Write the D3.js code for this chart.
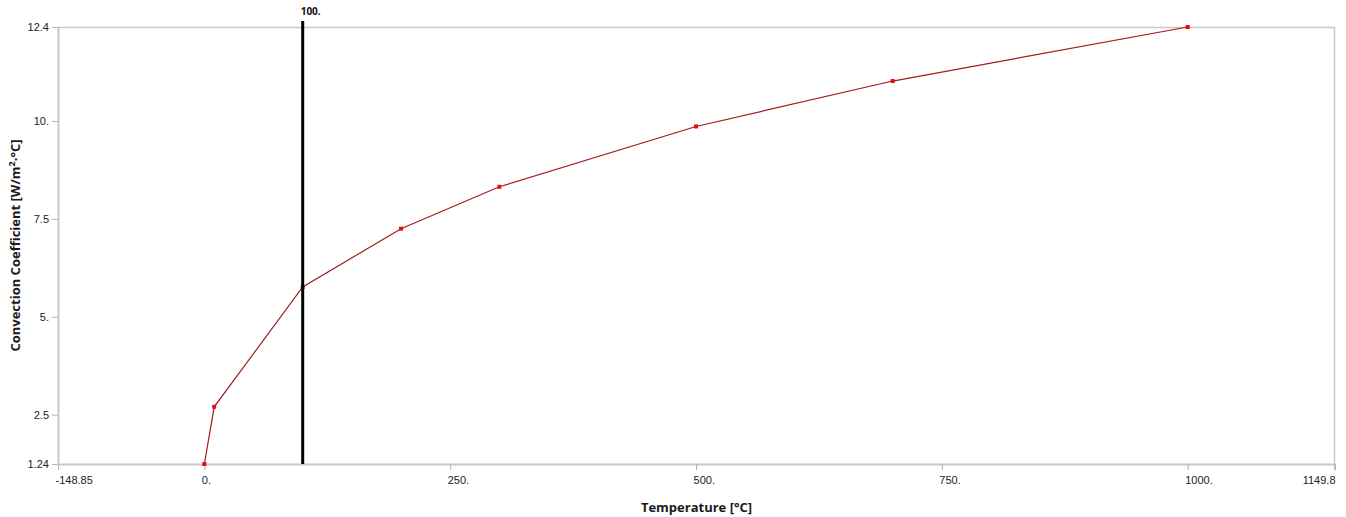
<!DOCTYPE html>
<html>
<head>
<meta charset="utf-8">
<script src="https://cdn.jsdelivr.net/npm/d3@7"></script>
<style>
  html, body { margin: 0; padding: 0; background: #fff; }
  svg { display: block; font-family: "Open Sans", "Liberation Sans", sans-serif; }
</style>
</head>
<body>
<svg id="chart" width="1346" height="517"></svg>
<script>
// Convection coefficient vs temperature
const temperatures = [0, 10, 100, 200, 300, 500, 700, 1000];
const coefficients = [1.24, 2.7, 5.76, 7.25, 8.32, 9.86, 11.02, 12.4];

const xDomain = [-148.85, 1149.8];
const yDomain = [1.24, 12.4];
const xTicks = [-148.85, 0, 250, 500, 750, 1000, 1149.8];
const xTickLabels = ["-148.85", "0.", "250.", "500.", "750.", "1000.", "1149.8"];
const yTicks = [1.24, 2.5, 5, 7.5, 10, 12.4];
const yTickLabels = ["1.24", "2.5", "5.", "7.5", "10.", "12.4"];

const markerValue = 100;
const markerLabel = "100.";

const margin = { left: 58, right: 11, top: 27, bottom: 53 };
const width = 1346, height = 517;

const svg = d3.select("#chart");
const x = d3.scaleLinear().domain(xDomain).range([margin.left, width - margin.right]);
const y = d3.scaleLinear().domain(yDomain).range([height - margin.bottom, margin.top]);

const axisColor = "#c8c8c8";

// frame: top and right borders
svg.append("line")
  .attr("x1", x(xDomain[0])).attr("x2", x(xDomain[1]))
  .attr("y1", y(yDomain[1]) + 0.5).attr("y2", y(yDomain[1]) + 0.5)
  .attr("stroke", axisColor).attr("stroke-width", 1.5);
svg.append("line")
  .attr("x1", x(xDomain[1]) - 0.5).attr("x2", x(xDomain[1]) - 0.5)
  .attr("y1", y(yDomain[1])).attr("y2", y(yDomain[0]) + 6)
  .attr("stroke", axisColor).attr("stroke-width", 1.5);

// x axis
const xAxis = d3.axisBottom(x)
  .tickValues(xTicks)
  .tickFormat((d, i) => xTickLabels[i])
  .tickSize(6)
  .tickSizeOuter(0);
const gx = svg.append("g")
  .attr("transform", `translate(0,${y(yDomain[0])})`)
  .call(xAxis);
gx.select(".domain").attr("stroke", axisColor).attr("stroke-width", 2);
gx.selectAll(".tick line").attr("stroke", "#b4b4b4");
gx.selectAll(".tick text")
  .attr("fill", "#222").attr("font-size", 11).attr("dy", "1.0em")
  .attr("text-anchor", "start").attr("dx", -3);
gx.selectAll(".tick").filter((d, i) => i === xTicks.length - 1)
  .select("text").attr("text-anchor", "end").attr("dx", 0);

// y axis
const yAxis = d3.axisLeft(y)
  .tickValues(yTicks)
  .tickFormat((d, i) => yTickLabels[i])
  .tickSize(6)
  .tickSizeOuter(0);
const gy = svg.append("g")
  .attr("transform", `translate(${x(xDomain[0])},0)`)
  .call(yAxis);
gy.select(".domain").attr("stroke", axisColor).attr("stroke-width", 2);
gy.selectAll(".tick line").attr("stroke", "#b4b4b4");
gy.selectAll(".tick text").attr("fill", "#222").attr("font-size", 11).attr("x", -9);

// axis titles
svg.append("text")
  .attr("x", (x(xDomain[0]) + x(xDomain[1])) / 2)
  .attr("y", 512)
  .attr("text-anchor", "middle")
  .attr("font-size", 13).attr("font-weight", "bold").attr("fill", "#1a1a1a")
  .text("Temperature [°C]");

const yTitle = svg.append("text")
  .attr("transform", `translate(20,${(y(yDomain[0]) + y(yDomain[1])) / 2}) rotate(-90)`)
  .attr("text-anchor", "middle")
  .attr("font-size", 13).attr("font-weight", "bold").attr("fill", "#1a1a1a");
yTitle.append("tspan").text("Convection Coefficient [W/m");
yTitle.append("tspan").attr("font-size", 9).attr("dy", -5).text("2");
yTitle.append("tspan").attr("dy", 5).text("·°C]");

// data line
const pts = temperatures.map((t, i) => [t, coefficients[i]]);
svg.append("path")
  .datum(pts)
  .attr("fill", "none")
  .attr("stroke", "#a01c1c")
  .attr("stroke-width", 1.2)
  .attr("d", d3.line().x(d => x(d[0])).y(d => y(d[1])));

// data points
svg.selectAll("rect.pt")
  .data(pts)
  .enter().append("rect")
  .attr("class", "pt")
  .attr("x", d => x(d[0]) - 2)
  .attr("y", d => y(d[1]) - 2)
  .attr("width", 4).attr("height", 4)
  .attr("fill", "#e01010");

// vertical marker
svg.append("line")
  .attr("x1", x(markerValue)).attr("x2", x(markerValue))
  .attr("y1", 21).attr("y2", y(yDomain[0]))
  .attr("stroke", "#000").attr("stroke-width", 3);
svg.append("text")
  .attr("x", x(markerValue) - 2)
  .attr("y", 15)
  .attr("font-size", 10).attr("font-weight", "bold").attr("fill", "#111")
  .text(markerLabel);
</script>
</body>
</html>
